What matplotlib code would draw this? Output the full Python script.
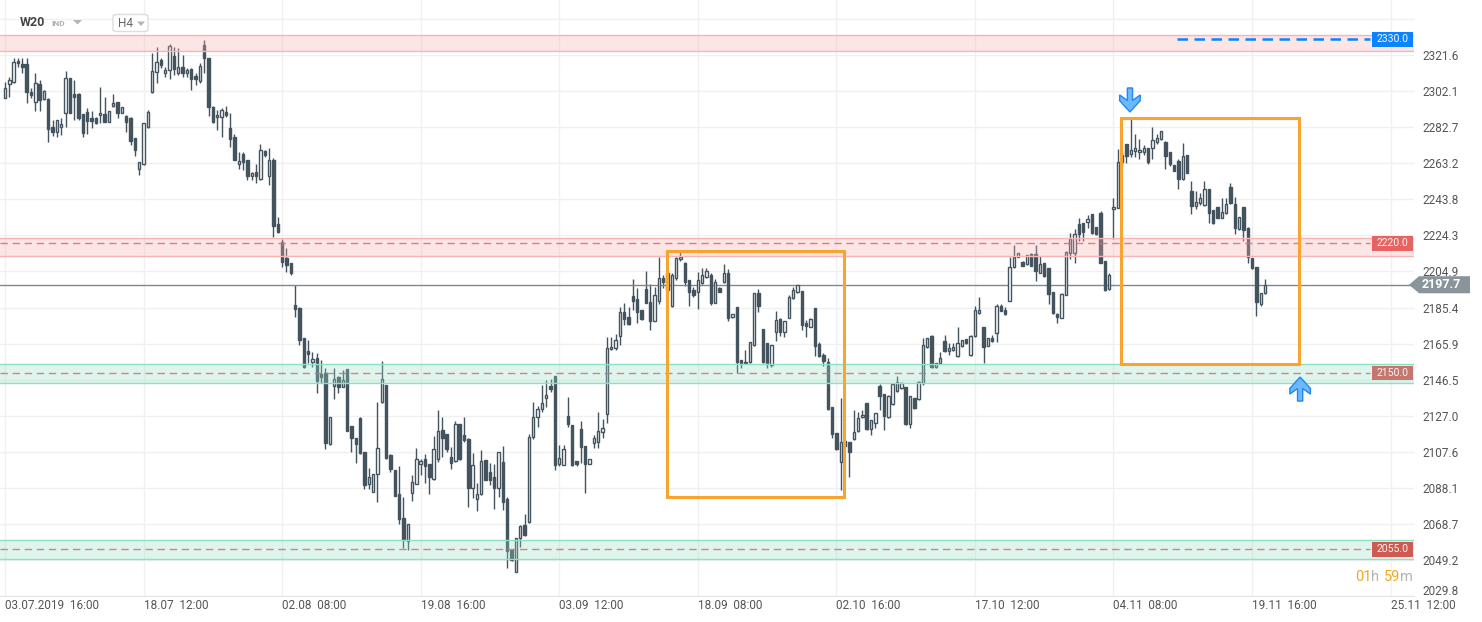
import numpy as np
import matplotlib.pyplot as plt
import matplotlib.transforms as mtransforms
from matplotlib.patches import Rectangle, Polygon, FancyBboxPatch

plt.rcParams['font.family'] = ['Roboto', 'DejaVu Sans']

# W20, H4 candles (03.07.2019 16:00 ... 20.11.2019)
opens = [
    2298.6, 2305.8, 2307.2, 2318.4, 2316.8, 2316.8, 2301.7, 2296.1, 2306.0, 2297.9,
    2297.9, 2282.8, 2280.1, 2283.0, 2290.1, 2309.0, 2300.6, 2300.6, 2289.6, 2291.0,
    2287.5, 2287.5, 2289.1, 2289.8, 2285.7, 2294.3, 2296.3, 2290.1, 2288.7, 2287.5,
    2276.8, 2259.9, 2262.6, 2282.6, 2301.5, 2312.3, 2318.9, 2312.1, 2313.5, 2320.9,
    2311.7, 2315.0, 2312.1, 2313.9, 2310.5, 2307.6, 2327.0, 2319.8, 2293.7, 2288.0,
    2288.3, 2290.9, 2282.2, 2277.4, 2262.6, 2268.2, 2265.0, 2256.5, 2258.5, 2254.6,
    2269.8, 2256.5, 2265.0, 2230.4, 2220.7, 2212.1, 2209.4, 2186.8, 2185.3, 2168.8,
    2161.9, 2156.2, 2158.0, 2149.4, 2149.9, 2111.8, 2143.2, 2148.1, 2142.7, 2152.1,
    2121.5, 2114.8, 2126.0, 2107.6, 2090.0, 2086.1, 2095.4, 2134.6, 2143.6, 2105.8,
    2097.7, 2084.8, 2072.0, 2059.6, 2085.2, 2090.0, 2100.8, 2103.7, 2101.0, 2092.9,
    2103.7, 2119.3, 2117.0, 2104.6, 2102.8, 2122.4, 2116.6, 2114.3, 2087.9, 2081.9,
    2084.6, 2103.1, 2096.5, 2093.8, 2087.9, 2101.9, 2081.9, 2054.6, 2042.6, 2060.9,
    2068.1, 2069.5, 2115.4, 2126.2, 2130.8, 2136.8, 2143.1, 2148.4, 2100.8, 2100.4,
    2126.9, 2122.0, 2102.8, 2119.9, 2110.7, 2100.8, 2112.1, 2113.0, 2118.1, 2127.8,
    2162.8, 2163.4, 2170.2, 2183.1, 2180.5, 2191.6, 2190.0, 2184.0, 2195.2, 2188.5,
    2178.3, 2188.9, 2201.1, 2203.8, 2186.4, 2201.5, 2211.4, 2209.6, 2200.2, 2194.8,
    2193.6, 2198.8, 2202.0, 2202.9, 2188.0, 2195.7, 2199.0, 2204.2, 2180.4, 2185.5,
    2157.1, 2156.2, 2156.2, 2165.2, 2193.0, 2173.8, 2166.1, 2154.4, 2172.4, 2179.0,
    2172.4, 2179.9, 2190.3, 2193.9, 2194.3, 2176.9, 2175.1, 2185.3, 2165.7, 2159.8,
    2155.8, 2131.9, 2117.5, 2101.9, 2113.6, 2112.7, 2114.3, 2118.8, 2126.2, 2133.7,
    2119.9, 2122.9, 2143.1, 2138.6, 2126.2, 2133.3, 2140.4, 2142.1, 2142.7, 2122.4,
    2136.4, 2136.0, 2144.9, 2163.9, 2170.0, 2153.1, 2155.3, 2167.3, 2162.1, 2162.5,
    2159.2, 2164.8, 2168.2, 2159.8, 2170.0, 2182.3, 2174.7, 2164.8, 2169.1, 2171.5,
    2186.2, 2184.0, 2189.1, 2207.1, 2212.8, 2210.1, 2208.7, 2214.3, 2214.3, 2204.2,
    2209.2, 2206.5, 2193.6, 2181.9, 2179.9, 2192.1, 2214.6, 2214.6, 2230.4, 2230.8,
    2231.3, 2235.6, 2229.0, 2236.5, 2210.5, 2195.2, 2238.3, 2239.2, 2263.7, 2273.4,
    2268.2, 2270.0, 2269.1, 2269.4, 2271.2, 2271.2, 2274.8, 2276.3, 2274.8, 2269.1,
    2262.3, 2264.6, 2254.5, 2267.6, 2248.2, 2240.3, 2241.6, 2240.7, 2249.3, 2238.0,
    2239.8, 2233.8, 2236.2, 2250.6, 2241.2, 2227.6, 2239.8, 2228.1, 2212.3, 2207.4,
    2187.3, 2193.1,
]
highs = [
    2307.2, 2309.9, 2319.8, 2319.8, 2319.8, 2319.8, 2303.6, 2311.7, 2308.1, 2302.7,
    2298.2, 2286.6, 2286.6, 2287.5, 2313.0, 2309.4, 2308.1, 2300.9, 2289.6, 2292.8,
    2291.4, 2288.0, 2304.5, 2299.1, 2291.4, 2300.4, 2296.3, 2293.4, 2289.2, 2288.0,
    2276.8, 2263.7, 2284.8, 2291.9, 2322.5, 2326.1, 2319.8, 2315.0, 2327.5, 2326.1,
    2325.2, 2321.6, 2314.4, 2314.4, 2312.1, 2317.1, 2329.7, 2319.8, 2294.1, 2291.9,
    2292.8, 2294.1, 2290.1, 2279.0, 2269.5, 2269.5, 2265.0, 2258.7, 2262.8, 2273.4,
    2270.4, 2271.3, 2265.9, 2234.4, 2222.2, 2217.3, 2209.4, 2197.4, 2185.5, 2168.8,
    2167.9, 2161.6, 2160.7, 2157.1, 2152.6, 2126.2, 2152.6, 2148.5, 2151.7, 2152.1,
    2121.5, 2114.8, 2126.5, 2107.6, 2098.6, 2095.4, 2134.6, 2156.5, 2143.6, 2106.4,
    2097.7, 2099.9, 2083.4, 2068.6, 2095.0, 2109.4, 2103.5, 2106.4, 2101.0, 2116.1,
    2130.1, 2126.5, 2117.0, 2110.3, 2124.2, 2122.6, 2126.5, 2114.8, 2106.7, 2090.6,
    2108.5, 2103.1, 2101.3, 2100.8, 2107.3, 2110.9, 2083.0, 2054.6, 2061.2, 2068.1,
    2073.8, 2117.0, 2134.3, 2132.3, 2143.6, 2146.3, 2146.7, 2148.4, 2111.2, 2111.2,
    2137.3, 2122.0, 2102.8, 2124.2, 2110.7, 2103.5, 2116.6, 2128.9, 2125.3, 2169.7,
    2169.7, 2171.1, 2185.8, 2187.6, 2185.5, 2200.6, 2195.7, 2184.0, 2205.3, 2197.9,
    2196.6, 2212.5, 2202.9, 2203.8, 2203.8, 2212.8, 2215.2, 2210.1, 2200.2, 2196.6,
    2204.7, 2206.5, 2206.5, 2203.8, 2200.6, 2196.6, 2208.9, 2206.0, 2182.0, 2185.5,
    2157.1, 2162.5, 2167.0, 2193.0, 2195.2, 2173.8, 2166.1, 2165.2, 2183.7, 2179.5,
    2178.3, 2192.1, 2196.6, 2197.5, 2194.3, 2178.7, 2179.5, 2185.3, 2167.0, 2161.0,
    2158.0, 2131.9, 2117.5, 2136.4, 2113.8, 2112.7, 2130.1, 2129.2, 2130.1, 2133.7,
    2124.7, 2128.3, 2144.1, 2138.6, 2138.2, 2144.1, 2148.6, 2145.4, 2142.7, 2137.8,
    2136.4, 2145.9, 2168.8, 2169.1, 2170.5, 2155.6, 2161.6, 2170.6, 2166.1, 2166.1,
    2174.7, 2167.9, 2168.2, 2170.6, 2186.2, 2190.9, 2175.1, 2168.8, 2170.6, 2187.3,
    2187.3, 2185.8, 2212.8, 2219.1, 2214.8, 2210.4, 2213.9, 2214.6, 2219.1, 2213.2,
    2209.5, 2206.5, 2193.6, 2182.3, 2193.0, 2216.0, 2225.4, 2227.7, 2233.5, 2230.8,
    2235.3, 2235.6, 2229.0, 2237.4, 2210.5, 2204.2, 2244.3, 2270.7, 2270.0, 2273.4,
    2286.9, 2279.0, 2276.1, 2273.0, 2271.6, 2282.6, 2279.0, 2280.6, 2275.2, 2269.1,
    2262.3, 2265.5, 2274.3, 2267.6, 2253.8, 2248.2, 2247.0, 2253.6, 2249.3, 2238.0,
    2239.8, 2244.3, 2244.3, 2252.7, 2245.2, 2234.4, 2239.8, 2229.0, 2212.3, 2207.4,
    2193.4, 2200.8,
]
lows = [
    2298.2, 2299.1, 2306.7, 2315.3, 2312.1, 2295.5, 2298.2, 2291.6, 2291.6, 2297.3,
    2274.9, 2277.9, 2277.2, 2278.3, 2283.0, 2290.1, 2286.6, 2286.6, 2277.2, 2278.8,
    2282.1, 2284.4, 2285.1, 2285.3, 2285.7, 2293.8, 2287.5, 2290.1, 2280.3, 2273.1,
    2267.1, 2256.9, 2262.3, 2282.1, 2301.3, 2306.3, 2314.4, 2309.9, 2308.7, 2310.8,
    2310.8, 2309.9, 2309.6, 2302.7, 2305.4, 2306.3, 2311.7, 2288.7, 2284.8, 2281.2,
    2277.6, 2288.0, 2272.2, 2265.0, 2259.9, 2259.6, 2254.2, 2254.2, 2252.4, 2254.2,
    2266.8, 2251.5, 2223.6, 2225.8, 2207.1, 2204.4, 2202.9, 2180.5, 2165.2, 2152.6,
    2155.6, 2153.5, 2139.5, 2144.9, 2109.1, 2111.2, 2136.0, 2139.5, 2142.7, 2119.0,
    2107.6, 2101.7, 2106.2, 2087.3, 2087.3, 2086.1, 2080.7, 2134.1, 2103.5, 2096.9,
    2083.9, 2068.6, 2055.5, 2054.6, 2081.2, 2090.0, 2095.0, 2090.6, 2084.6, 2092.4,
    2102.2, 2105.0, 2107.3, 2098.1, 2102.3, 2103.1, 2113.0, 2077.6, 2082.5, 2075.8,
    2084.2, 2092.4, 2089.7, 2076.5, 2083.4, 2076.2, 2045.1, 2048.8, 2042.6, 2056.4,
    2062.2, 2069.0, 2114.3, 2121.1, 2128.9, 2131.9, 2139.8, 2097.7, 2099.9, 2100.4,
    2121.1, 2099.9, 2099.9, 2101.3, 2085.5, 2100.8, 2109.4, 2109.4, 2114.8, 2123.3,
    2162.5, 2162.5, 2165.2, 2176.0, 2176.0, 2184.0, 2177.2, 2178.7, 2187.6, 2173.3,
    2178.1, 2187.3, 2195.7, 2193.9, 2185.9, 2200.2, 2210.7, 2197.0, 2186.4, 2191.2,
    2184.6, 2198.1, 2201.5, 2186.7, 2187.6, 2193.6, 2198.4, 2178.1, 2180.0, 2150.2,
    2152.6, 2154.9, 2155.6, 2164.6, 2183.1, 2155.6, 2152.6, 2153.5, 2167.5, 2170.0,
    2169.7, 2179.5, 2190.0, 2193.0, 2173.3, 2169.7, 2174.7, 2159.2, 2158.5, 2154.0,
    2130.1, 2115.2, 2108.5, 2086.9, 2110.0, 2094.1, 2113.9, 2118.4, 2125.8, 2119.3,
    2116.6, 2120.2, 2130.0, 2119.3, 2125.6, 2132.8, 2140.0, 2141.6, 2122.0, 2120.2,
    2130.5, 2135.5, 2143.6, 2163.5, 2152.6, 2152.8, 2155.0, 2161.5, 2159.8, 2162.1,
    2158.9, 2164.3, 2165.6, 2159.2, 2169.6, 2181.9, 2155.3, 2164.4, 2166.9, 2167.0,
    2183.3, 2181.4, 2188.7, 2206.5, 2212.4, 2207.6, 2208.3, 2207.6, 2199.9, 2204.0,
    2202.0, 2187.1, 2181.8, 2176.9, 2179.5, 2192.1, 2211.5, 2209.6, 2221.4, 2221.4,
    2228.1, 2225.0, 2224.5, 2209.2, 2194.3, 2194.8, 2222.2, 2238.9, 2262.0, 2263.5,
    2266.5, 2266.7, 2265.8, 2267.6, 2263.1, 2265.8, 2273.4, 2276.0, 2259.9, 2262.0,
    2258.8, 2249.1, 2254.2, 2257.8, 2235.6, 2238.5, 2240.7, 2240.3, 2230.8, 2230.4,
    2233.5, 2233.5, 2235.8, 2241.2, 2224.9, 2227.2, 2221.4, 2209.6, 2206.0, 2180.8,
    2186.2, 2192.5,
]
closes = [
    2303.6, 2308.1, 2318.0, 2317.1, 2315.3, 2301.5, 2300.2, 2306.3, 2297.3, 2302.2,
    2281.5, 2280.3, 2286.4, 2284.2, 2309.0, 2290.5, 2299.1, 2287.8, 2279.7, 2286.2,
    2286.2, 2285.1, 2290.1, 2285.7, 2291.4, 2295.5, 2290.5, 2293.4, 2285.7, 2275.2,
    2270.6, 2263.7, 2284.8, 2290.7, 2313.0, 2317.7, 2316.4, 2313.3, 2326.5, 2314.1,
    2315.0, 2312.1, 2313.3, 2308.7, 2308.7, 2315.7, 2319.8, 2293.7, 2285.7, 2289.1,
    2291.9, 2289.2, 2276.5, 2265.0, 2264.4, 2264.1, 2256.5, 2258.1, 2256.5, 2270.4,
    2267.7, 2265.0, 2229.5, 2226.3, 2210.1, 2208.2, 2204.2, 2184.8, 2167.9, 2153.5,
    2160.5, 2157.4, 2145.8, 2148.1, 2112.5, 2126.2, 2146.8, 2142.3, 2146.3, 2119.0,
    2114.8, 2111.6, 2106.7, 2089.7, 2093.8, 2095.4, 2109.8, 2146.7, 2104.0, 2098.1,
    2083.9, 2071.3, 2060.4, 2068.6, 2091.5, 2103.7, 2102.6, 2099.9, 2093.8, 2108.9,
    2118.8, 2115.2, 2109.1, 2101.7, 2122.6, 2103.7, 2113.9, 2087.9, 2100.4, 2084.6,
    2102.6, 2092.4, 2092.4, 2087.9, 2107.3, 2080.7, 2054.1, 2049.2, 2061.2, 2067.5,
    2062.7, 2115.4, 2126.5, 2130.5, 2134.1, 2138.2, 2141.6, 2100.4, 2104.4, 2109.1,
    2122.4, 2100.4, 2101.0, 2110.0, 2100.8, 2103.5, 2114.8, 2118.8, 2120.2, 2163.7,
    2164.3, 2167.9, 2183.1, 2179.2, 2176.3, 2189.1, 2183.1, 2179.2, 2188.0, 2178.3,
    2192.1, 2201.1, 2199.3, 2194.8, 2202.9, 2212.3, 2212.8, 2199.3, 2193.9, 2192.1,
    2200.2, 2202.9, 2205.1, 2188.0, 2199.3, 2193.9, 2204.2, 2179.5, 2181.7, 2156.2,
    2155.3, 2155.3, 2166.6, 2193.0, 2186.4, 2155.8, 2155.3, 2165.2, 2178.7, 2172.4,
    2178.3, 2191.2, 2194.8, 2197.5, 2176.0, 2175.6, 2179.0, 2164.8, 2159.2, 2156.5,
    2130.6, 2117.0, 2109.1, 2112.7, 2110.7, 2107.3, 2118.5, 2125.6, 2127.4, 2119.9,
    2124.7, 2128.3, 2137.8, 2127.0, 2137.8, 2144.1, 2145.4, 2144.5, 2122.6, 2137.8,
    2131.0, 2145.4, 2165.2, 2168.8, 2153.1, 2155.6, 2158.0, 2161.9, 2163.4, 2164.3,
    2166.1, 2167.9, 2166.1, 2170.2, 2184.0, 2184.0, 2164.3, 2168.8, 2167.3, 2186.2,
    2183.7, 2181.9, 2207.1, 2212.8, 2214.6, 2208.0, 2213.7, 2208.0, 2205.3, 2208.7,
    2202.4, 2192.5, 2182.2, 2180.5, 2192.5, 2215.1, 2222.2, 2225.0, 2225.0, 2226.3,
    2232.9, 2225.4, 2225.0, 2209.6, 2194.8, 2202.9, 2239.8, 2263.7, 2267.6, 2267.3,
    2270.3, 2271.2, 2270.3, 2271.2, 2263.7, 2275.7, 2276.6, 2280.6, 2267.3, 2262.6,
    2259.2, 2254.5, 2267.1, 2258.1, 2240.3, 2242.1, 2244.3, 2249.3, 2236.5, 2230.8,
    2233.5, 2236.7, 2241.0, 2241.6, 2228.1, 2234.4, 2227.2, 2212.8, 2206.5, 2188.5,
    2193.3, 2197.7,
]

date_ticks = [0, 32, 64, 96, 128, 160, 192, 224, 256, 288, 320]
date_labels = ["03.07.2019  16:00", "18.07  12:00", "02.08  08:00", "19.08  16:00",
               "03.09  12:00", "18.09  08:00", "02.10  16:00", "17.10  12:00",
               "04.11  08:00", "19.11  16:00", "25.11  12:00"]
price_ticks = [2341.1, 2321.6, 2302.1, 2282.7, 2263.2, 2243.8, 2224.3, 2204.9, 2185.4,
               2165.9, 2146.5, 2127.0, 2107.6, 2088.1, 2068.7, 2049.2, 2029.8]
price_labels = [''] + ['%.1f' % p for p in price_ticks[1:-1]] + ['']

# support / resistance zones
red_zones = [(2323.8, 2332.4), (2213.2, 2222.9)]
green_zones = [(2144.7, 2154.9), (2049.8, 2060.0)]
levels = [2330.0, 2220.0, 2150.0, 2055.0]
level_colors = ['#0a84ff', '#e86262', '#c4766f', '#cf5a4f']
# highlighted boxes (candle index range, price range)
boxes = [(152.9, 193.8, 2083.2, 2215.9), (257.7, 298.8, 2154.9, 2287.6)]
# arrow tips (candle index, price, direction)
arrows = [(259.8, 2290.9, -1), (299.1, 2147.9, 1)]

W, H = 1482, 622
fig = plt.figure(figsize=(W / 100, H / 100), dpi=100)
ax = fig.add_axes([0, 26 / H, 1414 / W, 596 / H])
ax.set_xlim(-1.155, 325.4)
ax.set_ylim(2029.8, 2351.3)

o = np.array(opens)
hi = np.array(highs)
lo = np.array(lows)
c = np.array(closes)
idx = np.arange(len(c))
up = c >= o
dark = '#44545f'

ax.vlines(idx, lo, hi, color=dark, lw=1, zorder=2)
bottom = np.minimum(o, c)
height = np.maximum(np.abs(c - o), 0.6)
ax.bar(idx[up], height[up], bottom=bottom[up], width=0.55,
       facecolor='white', edgecolor=dark, lw=1, zorder=3)
ax.bar(idx[~up], height[~up], bottom=bottom[~up], width=0.55,
       facecolor=dark, edgecolor=dark, lw=1, zorder=3)

# zones drawn over the candles
for a, b in red_zones:
    ax.axhspan(a, b, facecolor='#f8acac', alpha=0.3, lw=0, zorder=4)
    ax.axhline(a, color='#f6b4b4', lw=1, zorder=4)
    ax.axhline(b, color='#f6b4b4', lw=1, zorder=4)
for a, b in green_zones:
    ax.axhspan(a, b, facecolor='#94dec6', alpha=0.3, lw=0, zorder=4)
    ax.axhline(a, color='#90dfc4', lw=1, zorder=4)
    ax.axhline(b, color='#90dfc4', lw=1, zorder=4)

# current price
last = c[-1]
ax.axhline(last, color='#7d888e', lw=1, zorder=2.5)

# level lines
ax.hlines(levels[0], 270.7, 315.2, colors=level_colors[0], lw=1.8,
          linestyles=(0, (4.2, 2.6)), zorder=5)
for v in levels[1:]:
    ax.hlines(v, -1.155, 315.2, colors='#e06868', lw=1,
              linestyles=(0, (5.3, 3.4)), alpha=0.85, zorder=5)

ytr = ax.get_yaxis_transform()
for v, col in zip(levels, level_colors):
    ax.add_patch(Rectangle((1372 / 1414, v - 3.9), 41 / 1414, 7.8, transform=ytr,
                           facecolor=col, edgecolor='none', zorder=7))
    ax.text(1392.5 / 1414, v, '%.1f' % v, transform=ytr, ha='center', va='center',
            fontsize=7.5, color='#fff4f4', zorder=8)

# price tag
hh = 4.6
tag = Polygon([(1409 / 1414, last), (1419 / 1414, last + hh), (1470 / 1414, last + hh),
               (1470 / 1414, last - hh), (1419 / 1414, last - hh)],
              closed=True, transform=ytr, facecolor='#89959b', edgecolor='none',
              clip_on=False, zorder=10)
ax.add_patch(tag)
ax.text(1441 / 1414, last, '%.1f' % last, transform=ytr, ha='center', va='center',
        fontsize=9, fontweight='bold', color='white', clip_on=False, zorder=11)

# lowest price label sits a little above the axis bottom
ax.text(1422 / 1414, price_ticks[-1] + 2.3, '%.1f' % price_ticks[-1], transform=ytr,
        ha='left', va='center', fontsize=8.5, color='#555555', clip_on=False)

# highlight boxes
for x0, x1, y0, y1 in boxes:
    ax.add_patch(Rectangle((x0, y0), x1 - x0, y1 - y0, fill=False,
                           edgecolor='#f7a530', lw=2.2, zorder=6))

# block arrows, shape in pixels relative to the tip
shape = np.array([(0, 0), (10.3, 11.3), (10.3, 17), (2.6, 11.5), (2.6, 24),
                  (-2.6, 24), (-2.6, 11.5), (-10.3, 17), (-10.3, 11.3)])
for xa, ya, d in arrows:
    pts = shape * np.array([1, -d])
    tr = mtransforms.Affine2D() + mtransforms.ScaledTranslation(xa, ya, ax.transData)
    fig.add_artist(Polygon(pts, closed=True, transform=tr, facecolor='#6cb8ff',
                           edgecolor='#2288ee', lw=1, zorder=9))

# axes styling
ax.set_yticks(price_ticks)
ax.set_yticklabels(price_labels)
ax.yaxis.tick_right()
ax.set_xticks(date_ticks)
ax.set_xticklabels(date_labels)
for t in ax.get_xticklabels():
    t.set_ha('left')
ax.tick_params(axis='y', length=0, pad=6, labelsize=8.5, labelcolor='#555555')
ax.tick_params(axis='x', length=0, pad=2.5, labelsize=8.5, labelcolor='#555555')
ax.grid(True, color='#f0f0f0', lw=1)
ax.set_axisbelow(True)
for s in ['top', 'left', 'right']:
    ax.spines[s].set_visible(False)
ax.spines['bottom'].set_color('#e6e6e6')


def fp(x, y):
    return (x / W, 1 - y / H)


# header
fig.text(*fp(20, 23), 'W20', fontsize=9, fontweight='bold', color='#454545', va='center')
fig.text(*fp(51, 24), 'IND', fontsize=6, fontweight='bold', color='#a9b1b7', va='center')
fig.add_artist(Polygon([fp(73, 20), fp(82, 20), fp(77.5, 24.5)], closed=True,
                       transform=fig.transFigure, facecolor='#b5b5b5', edgecolor='none'))
fig.add_artist(FancyBboxPatch(fp(113, 31.5), 35 / W, 17 / H,
                              boxstyle='round,pad=0,rounding_size=0.003',
                              transform=fig.transFigure, facecolor='white',
                              edgecolor='#dddddd', lw=1))
fig.text(*fp(118, 23.5), 'H4', fontsize=8.5, color='#666666', va='center')
fig.add_artist(Polygon([fp(137, 21.5), fp(145, 21.5), fp(141, 26)], closed=True,
                       transform=fig.transFigure, facecolor='#b5b5b5', edgecolor='none'))

# countdown
for x, s, col in [(1355, '01', '#f5a623'), (1371, 'h', '#b4b4b4'),
                  (1384, '59', '#f5a623'), (1400, 'm', '#b4b4b4')]:
    fig.text(*fp(x, 577), s, fontsize=10.5, color=col, va='center', ha='left')

fig.savefig('out.png', dpi=100)
